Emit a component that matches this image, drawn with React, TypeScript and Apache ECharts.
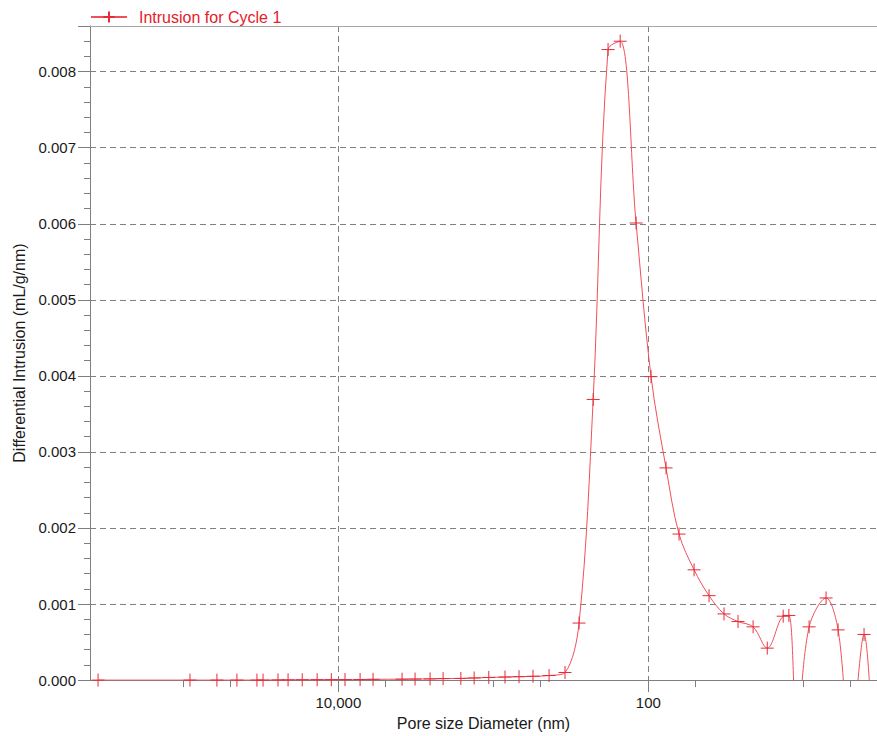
import React, { useEffect, useRef } from 'react';
import * as echarts from 'echarts';

// Pore size diameters (nm)
const diameters: number[] = [
  355000, 90600, 60700, 45100, 33500, 30600, 24500, 21100, 17100, 13700,
  11100, 9060, 7240, 5970, 3880, 3200, 2560, 2110, 1620, 1330,
  1070, 841, 683, 555, 437, 345, 280, 227, 182, 152,
  120, 96.1, 76.9, 63.4, 50.7, 40.6, 32.5, 26.4, 21.1, 17.1,
  13.5, 12.4, 11.0, 9.18, 7.14, 5.97, 5.0, 4.06, 3.55,
];

// Differential intrusion (mL/g/nm)
const intrusion: number[] = [
  0, 0, 0, 0, 0, 0, 0.000002, 0.000003, 0.000004, 0.000005,
  0.000006, 0.000007, 0.000008, 0.00001, 0.000012, 0.000014, 0.000016, 0.00002, 0.000022, 0.000028,
  0.000035, 0.00004, 0.000045, 0.00005, 0.00006, 0.0001, 0.00075, 0.00369, 0.00829, 0.0084,
  0.00601, 0.00399, 0.00279, 0.00192, 0.00145, 0.00111, 0.00087, 0.00077, 0.0007, 0.00042,
  0.00084, 0.00085, -0.0006, 0.0007, 0.00108, 0.00066, -0.0008, 0.0006, -0.001,
];

const majorXTicks: number[] = [10000, 100];
const minorXTicks: number[] = [100000, 50000, 5000, 1000, 500, 50, 10, 5];

const X_MIN = 3.35;
const X_MAX = 400000;

const SERIES_NAME = 'Intrusion for Cycle 1';
const FONT = '"Liberation Sans", Arial, sans-serif';
const AXIS_COLOR = '#7f7f7f';
const TEXT_COLOR = '#1a1a1a';
const PLUS = 'path://M0,6.5L13,6.5M6.5,0L6.5,13';

export default function App() {
  const ref = useRef<HTMLDivElement>(null);

  useEffect(() => {
    document.body.style.margin = '0';
    if (!ref.current) return;
    const chart = echarts.init(ref.current, undefined, { renderer: 'svg' });

    const splitLine = {
      show: true,
      lineStyle: { color: '#808080', width: 1, type: [6, 4] as any },
    };

    const logAxisBase = {
      type: 'log',
      logBase: 10,
      min: X_MIN,
      max: X_MAX,
      inverse: true,
    };

    const option: any = {
      animation: false,
      backgroundColor: '#ffffff',
      textStyle: { fontFamily: FONT },
      legend: {
        show: true,
        left: 90,
        top: 9,
        padding: 0,
        itemWidth: 36,
        itemHeight: 14,
        data: [SERIES_NAME],
        textStyle: { color: '#e4212b', fontSize: 16, fontFamily: FONT, padding: [0, 0, 0, 7] },
      },
      grid: {
        left: 90,
        right: 0,
        top: 26,
        bottom: 54,
        show: false,
        containLabel: false,
      },
      xAxis: [
        {
          ...logAxisBase,
          position: 'bottom',
          name: 'Pore size Diameter (nm)',
          nameLocation: 'middle',
          nameGap: 26,
          nameTextStyle: { fontSize: 16, color: TEXT_COLOR, fontFamily: FONT },
          axisLine: { show: true, lineStyle: { color: AXIS_COLOR, width: 1 } },
          axisTick: {
            show: true,
            customValues: majorXTicks,
            length: 12,
            lineStyle: { color: AXIS_COLOR },
          },
          axisLabel: {
            show: true,
            customValues: majorXTicks,
            margin: 15,
            fontSize: 15,
            color: TEXT_COLOR,
            fontFamily: FONT,
            formatter: (v: number) => Number(v).toLocaleString('en-US'),
          },
          splitLine,
          minorTick: { show: false },
        },
        {
          ...logAxisBase,
          position: 'bottom',
          offset: 0,
          axisLine: { show: false },
          axisTick: {
            show: true,
            customValues: minorXTicks,
            length: 7,
            lineStyle: { color: AXIS_COLOR },
          },
          axisLabel: { show: false },
          splitLine: { show: false },
        },
        {
          ...logAxisBase,
          position: 'top',
          offset: 0,
          axisLine: { show: true, lineStyle: { color: '#a6a6a6', width: 1 } },
          axisTick: { show: false },
          axisLabel: { show: false },
          splitLine: { show: false },
        },
      ],
      yAxis: {
        type: 'value',
        min: 0,
        max: 0.0086,
        interval: 0.001,
        name: 'Differential Intrusion (mL/g/nm)',
        nameLocation: 'middle',
        nameGap: 62,
        nameTextStyle: { fontSize: 16, color: TEXT_COLOR, fontFamily: FONT },
        axisLine: { show: true, lineStyle: { color: AXIS_COLOR, width: 1 } },
        axisTick: { show: true, length: 12, lineStyle: { color: AXIS_COLOR } },
        minorTick: { show: true, splitNumber: 5, length: 6, lineStyle: { color: AXIS_COLOR } },
        axisLabel: {
          margin: 14,
          fontSize: 15,
          color: TEXT_COLOR,
          fontFamily: FONT,
          formatter: (v: number) => {
            const k = v * 1000;
            return Math.abs(k - Math.round(k)) < 1e-6 ? v.toFixed(3) : '';
          },
        },
        splitLine,
      },
      series: [
        {
          type: 'line',
          name: SERIES_NAME,
          xAxisIndex: 0,
          yAxisIndex: 0,
          data: diameters.map((d, i) => [d, intrusion[i]]),
          smooth: 0.35,
          symbol: PLUS,
          symbolSize: 13,
          showAllSymbol: true,
          clip: true,
          lineStyle: { color: '#f0505a', width: 1 },
          itemStyle: { color: '#e52b36', borderColor: '#e52b36', borderWidth: 1 },
        },
      ],
    };

    chart.setOption(option);
    return () => chart.dispose();
  }, []);

  return (
    <div
      ref={ref}
      style={{ position: 'absolute', left: 0, top: 0, width: 877, height: 736 }}
    />
  );
}
